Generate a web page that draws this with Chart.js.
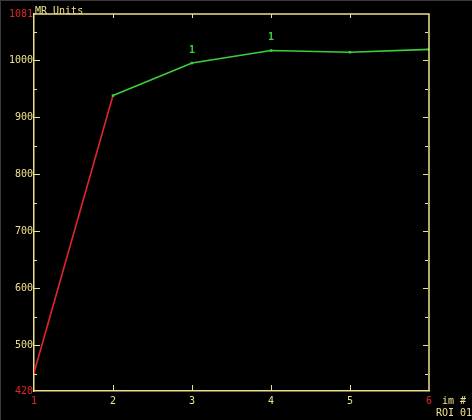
<!DOCTYPE html>
<html><head><meta charset="utf-8">
<script src="https://cdn.jsdelivr.net/npm/chart.js@4/dist/chart.umd.min.js"></script>
<style>html,body{margin:0;padding:0;background:#000;}#wrap{position:relative;width:472px;height:420px;background:#000;box-sizing:border-box;border-top:1px solid #3a3a3a;border-left:1px solid #3a3a3a;}</style>
</head><body><div id="wrap"><canvas id="c" width="471" height="419"></canvas></div>
<script>
const imageNumbers = [1, 2, 3, 4, 5, 6];
const mrValues = [452, 938, 995, 1017, 1014, 1019];
const pointLabels = ['', '', '1', '1', '', ''];
const yTickValues = [420, 500, 600, 700, 800, 900, 1000, 1081];
const yMinorValues = [450, 550, 650, 750, 850, 950, 1050];
const yMin = 420, yMax = 1081;
const yTitle = 'MR Units';
const xTitle = 'im #';
const roiLabel = 'ROI 01';

const YELLOW = '#ece08c';
const RED = '#e0262a';
const GREEN = '#3ccf3c';
const FONT = { family: 'DejaVu Sans Mono', size: 10 };
const FONT_STR = '10px "DejaVu Sans Mono"';

const decor = {
  id: 'decor',
  afterDraw(chart) {
    const { ctx, chartArea: a, scales } = chart;
    const xs = scales.x, ys = scales.y;
    ctx.save();
    ctx.strokeStyle = YELLOW;
    ctx.lineWidth = 1.5;
    ctx.beginPath();
    ctx.moveTo(a.left, a.top); ctx.lineTo(a.right, a.top); ctx.lineTo(a.right, a.bottom);
    ctx.stroke();
    ctx.lineWidth = 1;
    ctx.beginPath();
    imageNumbers.slice(1, -1).forEach(v => {
      const px = Math.round(xs.getPixelForValue(v)) + 0.5;
      ctx.moveTo(px, a.bottom); ctx.lineTo(px, a.bottom - 6);
      ctx.moveTo(px, a.top); ctx.lineTo(px, a.top + 4);
    });
    yTickValues.filter(v => v % 100 === 0).forEach(v => {
      const py = Math.round(ys.getPixelForValue(v)) + 0.5;
      ctx.moveTo(a.left, py); ctx.lineTo(a.left + 6, py);
      ctx.moveTo(a.right - 1, py); ctx.lineTo(a.right - 6, py);
    });
    yMinorValues.forEach(v => {
      const py = Math.round(ys.getPixelForValue(v)) + 0.5;
      ctx.moveTo(a.left, py); ctx.lineTo(a.left + 3, py);
      ctx.moveTo(a.right - 1, py); ctx.lineTo(a.right - 4, py);
    });
    ctx.stroke();

    ctx.font = FONT_STR;
    ctx.textBaseline = 'middle';
    ctx.textAlign = 'left';
    ctx.fillStyle = YELLOW;
    ctx.fillText(yTitle, a.left + 1, a.top - 3);
    ctx.fillText(xTitle, a.right + 13, a.bottom + 10);
    ctx.fillText(roiLabel, a.right + 7, a.bottom + 22);

    const meta = chart.getDatasetMeta(0);
    ctx.textAlign = 'center';
    ctx.fillStyle = GREEN;
    ctx.font = 'bold ' + FONT_STR;
    meta.data.forEach((pt, i) => {
      if (pointLabels[i]) ctx.fillText(pointLabels[i], pt.x, pt.y - 13);
    });
    ctx.restore();
  }
};

new Chart(document.getElementById('c'), {
  type: 'line',
  data: {
    datasets: [{
      data: imageNumbers.map((x, i) => ({ x, y: mrValues[i] })),
      borderColor: GREEN,
      borderWidth: 1.6,
      tension: 0,
      segment: { borderColor: c => c.p0DataIndex === 0 ? RED : GREEN },
      pointStyle: 'rect',
      pointRadius: 1.8,
      pointBorderWidth: 0,
      pointBackgroundColor: c => c.dataIndex === 0 ? RED : GREEN
    }]
  },
  options: {
    responsive: false,
    animation: false,
    devicePixelRatio: 1,
    layout: { padding: { top: 13, right: 43, left: 0, bottom: 0 } },
    plugins: { legend: { display: false }, tooltip: { enabled: false } },
    scales: {
      x: {
        type: 'linear', min: 1, max: 6,
        afterBuildTicks: s => { s.ticks = imageNumbers.map(v => ({ value: v })); },
        afterFit: s => { s.height = 29; },
        grid: { display: false, drawTicks: false },
        border: { display: true, color: YELLOW, width: 1.5 },
        ticks: {
          autoSkip: false, maxRotation: 0, padding: 4, font: FONT,
          color: c => (c.tick.value === 1 || c.tick.value === 6) ? RED : YELLOW,
          callback: v => String(v)
        }
      },
      y: {
        min: yMin, max: yMax,
        afterBuildTicks: s => { s.ticks = yTickValues.map(v => ({ value: v })); },
        afterFit: s => { s.width = 33; },
        grid: { display: false, drawTicks: false },
        border: { display: true, color: YELLOW, width: 1.5 },
        ticks: {
          autoSkip: false, padding: 1, font: FONT,
          color: c => (c.tick.value === yMin || c.tick.value === yMax) ? RED : YELLOW,
          callback: v => String(v)
        }
      }
    }
  },
  plugins: [decor]
});
</script>
</body></html>
